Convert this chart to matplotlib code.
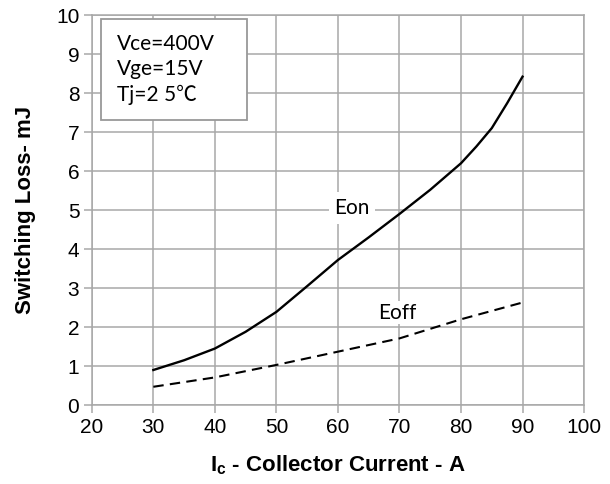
import matplotlib.pyplot as plt
from matplotlib.patches import Rectangle

ic_on = [30, 35, 40, 45, 50, 55, 60, 65, 70, 75, 80, 82.5, 85, 87.5, 90]
eon = [0.9, 1.15, 1.45, 1.88, 2.39, 3.05, 3.72, 4.3, 4.9, 5.52, 6.2, 6.63, 7.1, 7.74, 8.42]
ic_off = [30, 40, 50, 60, 70, 80, 90]
eoff = [0.47, 0.71, 1.03, 1.37, 1.71, 2.2, 2.63]

grid_col = '#a8a8a8'

fig = plt.figure(figsize=(6.1, 4.84), dpi=100)
ax = fig.add_axes([0.1505, 0.163, 0.807, 0.806])

ax.plot(ic_on, eon, color='black', lw=1.7)
ax.plot(ic_off, eoff, color='black', lw=1.5, dashes=(5, 3))

ax.set_xlim(20, 100)
ax.set_ylim(0, 10)
ax.set_xticks(range(20, 101, 10))
ax.set_yticks(range(0, 11))
ax.grid(True, color=grid_col, lw=1.1)
ax.set_axisbelow(True)
for s in ax.spines.values():
    s.set_color(grid_col)
    s.set_linewidth(1.1)
ax.tick_params(color=grid_col, width=1.1, length=6, labelsize=15, pad=3)
for lab in ax.get_xticklabels() + ax.get_yticklabels():
    lab.set_fontfamily('Liberation Sans')

ax.set_xlabel('I$_\\mathregular{c}$ - Collector Current - A', fontsize=16,
              fontweight='bold', family='Liberation Sans', labelpad=12)
ax.set_ylabel('Switching Loss- mJ', fontsize=16, fontweight='bold',
              family='Liberation Sans', labelpad=14)

ax.text(62.3, 5.05, 'Eon', fontsize=15, family='Lato', ha='center', va='center',
        bbox=dict(fc='white', ec='none', pad=4))
ax.text(69.7, 2.37, 'Eoff', fontsize=15, family='Lato', ha='center', va='center',
        bbox=dict(fc='white', ec='none', pad=1))

# condition box
ax.add_patch(Rectangle((21.5, 7.3), 23.7, 2.6, fc='white', ec='#999999', lw=1.3, zorder=3))
ax.text(24.1, 8.6, 'Vce=400V\nVge=15V\nTj=2 5\u2103', fontsize=15,
        family=['Lato', 'Noto Sans CJK SC'], ha='left', va='center',
        linespacing=1.35, zorder=4)

fig.savefig('out.png', dpi=100)
